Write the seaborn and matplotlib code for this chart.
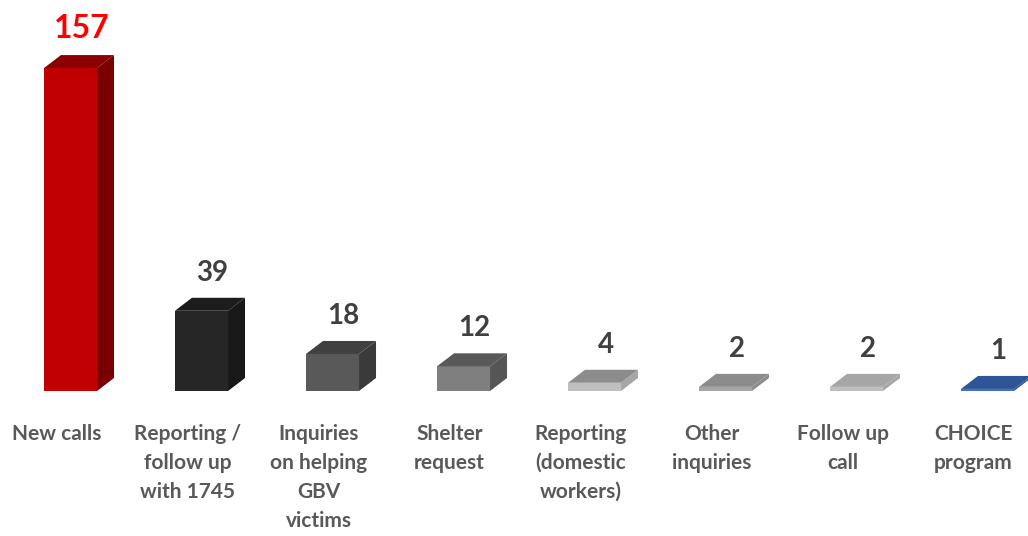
import matplotlib
matplotlib.use("Agg")
import matplotlib.pyplot as plt
import seaborn as sns
import pandas as pd
from matplotlib.patches import Polygon
from matplotlib.transforms import IdentityTransform, ScaledTranslation

categories = ["New calls", "Reporting /\nfollow up\nwith 1745", "Inquiries\non helping\nGBV\nvictims",
              "Shelter\nrequest", "Reporting\n(domestic\nworkers)", "Other\ninquiries",
              "Follow up\ncall", "CHOICE\nprogram"]
values = [157, 39, 18, 12, 4, 2, 2, 1]
front_colors = ["#C00000", "#262626", "#595959", "#7F7F7F", "#BFBFBF", "#A6A6A6", "#BFBFBF", "#4472C4"]
top_colors = ["#8B0000", "#1C1C1C", "#404040", "#595959", "#8C8C8C", "#8C8C8C", "#A6A6A6", "#2F5597"]
side_colors = ["#7A0000", "#181818", "#3A3A3A", "#555555", "#A6A6A6", "#8C8C8C", "#A6A6A6", "#2F5597"]
value_colors = ["#FF0000"] + ["#404040"] * 7

sns.set_style("white")
plt.rcParams["font.family"] = ["Lato", "DejaVu Sans"]

df = pd.DataFrame({"category": categories, "value": values})

fig = plt.figure(figsize=(10.28, 5.36), dpi=100)
ax = fig.add_axes([0, 145 / 536, 1, 391 / 536])
sns.barplot(data=df, x="category", y="value", hue="category", palette=front_colors,
            width=0.405, legend=False, ax=ax, saturation=1, linewidth=0)
ax.set_xlim(-0.538, 7.309)
ax.set_ylim(0, 190.1)
for s in ax.spines.values():
    s.set_visible(False)
ax.set_yticks([])
ax.set_ylabel("")
ax.set_xlabel("")
ax.set_xticks(range(len(categories)))
ax.set_xticklabels(categories, fontsize=15, fontweight="bold", color="#595959", linespacing=1.55)
ax.tick_params(axis="x", length=0, pad=24)
shift = ScaledTranslation(-14 / 100, 0, fig.dpi_scale_trans)
for lab in ax.get_xticklabels():
    lab.set_transform(lab.get_transform() + shift)

fig.canvas.draw()
dx, dy = 17, 13
for i, p in enumerate(ax.patches[:len(values)]):
    x0, x1 = p.get_x(), p.get_x() + p.get_width()
    h = p.get_height()
    (X0, Y0) = ax.transData.transform((x0, 0))
    (X1, Y1) = ax.transData.transform((x1, h))
    side = Polygon([(X1, Y0), (X1, Y1), (X1 + dx, Y1 + dy), (X1 + dx, Y0 + dy)],
                   closed=True, facecolor=side_colors[i], edgecolor="none",
                   transform=IdentityTransform(), clip_on=False)
    top = Polygon([(X0, Y1), (X1, Y1), (X1 + dx, Y1 + dy), (X0 + dx, Y1 + dy)],
                  closed=True, facecolor=top_colors[i], edgecolor="none",
                  transform=IdentityTransform(), clip_on=False)
    fig.add_artist(side)
    fig.add_artist(top)

for i, v in enumerate(values):
    ax.annotate(str(v), xy=(i, v), xytext=(11, 30), textcoords="offset pixels",
                ha="center", va="baseline", fontsize=23 if i == 0 else 20,
                fontweight="bold", color=value_colors[i], annotation_clip=False)

fig.savefig("out.png", dpi=100)
